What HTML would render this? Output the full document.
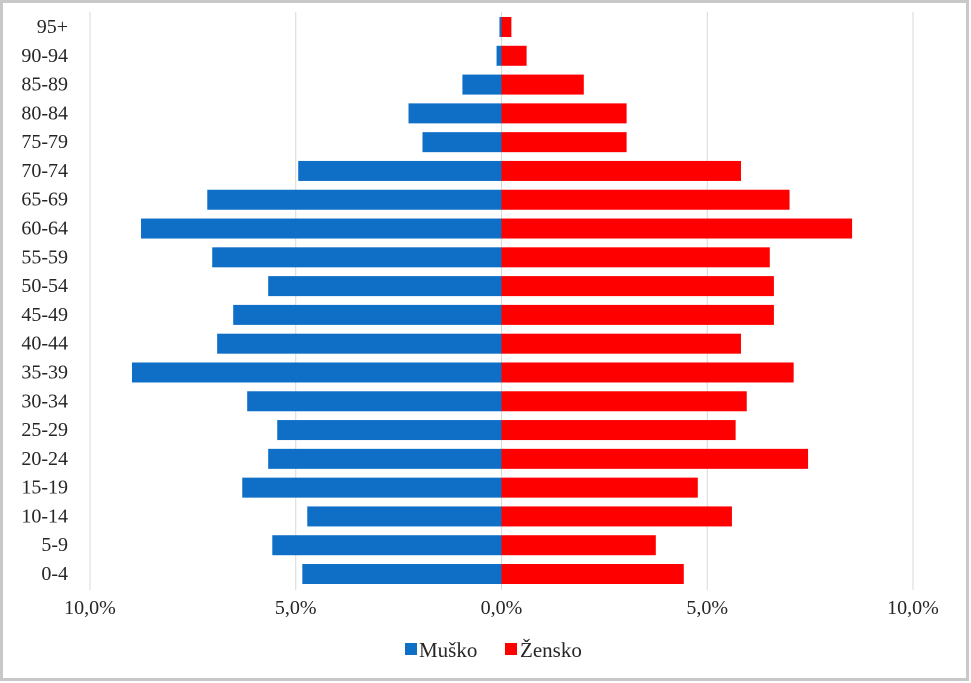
<!DOCTYPE html>
<html><head><meta charset="utf-8"><style>
html,body{margin:0;padding:0;background:#fff;}
svg{display:block;font-family:"Liberation Serif",serif;}
</style></head><body>
<svg id="chart" width="971" height="683">
<rect x="1.5" y="1.5" width="966" height="678" fill="#fff" stroke="#c8c8c8" stroke-width="3"/>
<g id="grid"></g><g id="bars"></g><g id="labels"></g>
<g>
<rect x="405" y="643" width="12" height="12" fill="#0f6fc6"/>
<text x="419" y="657" font-size="21" fill="#262626">Muško</text>
<rect x="505" y="643" width="12" height="12" fill="#ff0000"/>
<text x="520" y="657" font-size="21" fill="#262626">Žensko</text>
</g>
</svg>
<script>
const categories=["95+","90-94","85-89","80-84","75-79","70-74","65-69","60-64","55-59","50-54","45-49","40-44","35-39","30-34","25-29","20-24","15-19","10-14","5-9","0-4"];
const male=[0.05,0.12,0.95,2.26,1.92,4.94,7.15,8.76,7.03,5.67,6.52,6.91,8.98,6.18,5.45,5.67,6.30,4.72,5.57,4.84];
const female=[0.24,0.61,2.0,3.04,3.04,5.82,7.0,8.52,6.52,6.62,6.62,5.82,7.1,5.96,5.69,7.45,4.77,5.6,3.75,4.43];
const ticks=[-10,-5,0,5,10];
const tickLabels=["10,0%","5,0%","0,0%","5,0%","10,0%"];
const NS="http://www.w3.org/2000/svg";
const x0=501.5,pxPer=41.15;
const xs=v=>x0+v*pxPer;
const yTop=27,step=28.79,bh=20;
const ys=i=>yTop+i*step;
function mk(t,a,p){const e=document.createElementNS(NS,t);for(const k in a)e.setAttribute(k,a[k]);p.appendChild(e);return e;}
const grid=document.getElementById('grid'),bars=document.getElementById('bars'),labels=document.getElementById('labels');
ticks.forEach((t,i)=>{
 const l=mk('line',{x1:xs(t),x2:xs(t),y1:12,y2:590,stroke:'#d9d9d9','stroke-width':1},grid);
 
 
 const tx=mk('text',{x:xs(t),y:614,'font-size':20,fill:'#262626','text-anchor':'middle'},labels);
 tx.textContent=tickLabels[i];
 
 
});
categories.forEach((c,i)=>{
 const y=ys(i);
 const m=mk('rect',{x:xs(-male[i]),y:y-bh/2,width:xs(0)-xs(-male[i]),height:bh,fill:'#0f6fc6'},bars);
 
 
 const f=mk('rect',{x:xs(0),y:y-bh/2,width:xs(female[i])-xs(0),height:bh,fill:'#ff0000'},bars);
 
 
 const t=mk('text',{x:68,y:y+6,'font-size':20,fill:'#262626','text-anchor':'end'},labels);
 t.textContent=c;
 
 
});
</script>
</body></html>
